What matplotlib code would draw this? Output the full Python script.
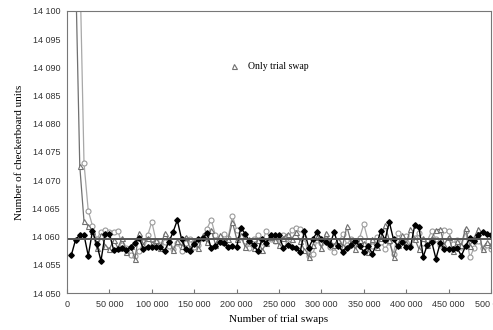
import numpy as np
import matplotlib
matplotlib.use('Agg')
import matplotlib.pyplot as plt
from matplotlib.ticker import FuncFormatter

trial_swaps = np.arange(5000, 500001, 5000)

black_diamonds = [
    14056.7, 14059.4, 14060.3, 14060.3, 14056.6, 14061.0, 14058.7, 14055.7, 14060.5, 14060.5,
    14057.6, 14057.8, 14058.0, 14057.6, 14058.1, 14058.9, 14059.8, 14057.8, 14058.2, 14058.2,
    14058.1, 14058.1, 14057.5, 14059.0, 14060.8, 14062.9, 14059.6, 14057.8, 14057.5, 14058.7,
    14059.6, 14059.7, 14060.6, 14057.9, 14058.3, 14059.0, 14058.8, 14058.2, 14058.3, 14058.1,
    14061.6, 14060.5, 14059.2, 14058.6, 14057.4, 14059.5, 14058.8, 14060.3, 14060.3, 14060.2,
    14058.0, 14058.6, 14058.2, 14057.9, 14057.3, 14061.0, 14058.0, 14059.6, 14060.8, 14059.6,
    14059.0, 14058.6, 14060.8, 14058.4, 14057.3, 14058.0, 14058.6, 14059.2, 14058.3, 14057.3,
    14058.3, 14057.0, 14058.6, 14061.0, 14059.4, 14062.6, 14059.5, 14058.3, 14059.0, 14058.1,
    14058.1, 14062.0, 14061.7, 14056.4, 14058.6, 14059.1, 14056.1, 14058.8, 14057.8, 14057.8,
    14057.8, 14058.0, 14056.6, 14058.3, 14059.8, 14059.2, 14060.3, 14060.8, 14060.5, 14060.3,
]

gray_circles = [
    np.nan, np.nan, 14109.0, 14073.0, 14064.6, 14061.9, 14059.5, 14060.9, 14061.2, 14060.9,
    14060.8, 14061.0, 14058.5, 14058.0, 14056.8, 14056.5, 14057.4, 14059.0, 14060.2, 14062.6,
    14059.2, 14058.6, 14059.0, 14058.4, 14057.8, 14058.9, 14057.4, 14058.8, 14059.5, 14058.2,
    14058.6, 14059.8, 14061.4, 14063.0, 14060.2, 14059.4, 14060.4, 14059.8, 14063.7, 14061.2,
    14060.0, 14059.3, 14058.0, 14059.5, 14060.3, 14059.0, 14061.0, 14059.5, 14059.2, 14059.8,
    14060.2, 14058.8, 14061.2, 14061.6, 14061.4, 14059.8, 14056.6, 14057.0, 14059.4, 14058.8,
    14059.6, 14058.2, 14057.3, 14059.0, 14060.4, 14058.6, 14059.6, 14058.9, 14059.8, 14062.2,
    14059.3, 14058.4, 14060.0, 14059.1, 14057.8, 14059.0, 14057.0, 14060.6, 14059.2, 14060.1,
    14058.4, 14059.7, 14060.6, 14058.9, 14059.3, 14061.0, 14059.6, 14058.6, 14061.2, 14061.0,
    14058.7, 14059.4, 14058.2, 14061.0, 14056.3, 14058.0, 14059.3, 14058.0, 14058.6, 14057.8,
]

trial_only = [
    np.nan, 14108.0, 14072.5, 14062.7, 14061.9, 14061.0, 14058.0, 14060.3, 14058.4, 14057.8,
    14059.4, 14058.0, 14059.8, 14057.2, 14058.4, 14056.1, 14060.6, 14058.6, 14059.8, 14058.8,
    14059.4, 14058.0, 14060.6, 14059.5, 14057.6, 14059.2, 14058.4, 14060.0, 14058.0, 14059.2,
    14057.9, 14060.2, 14059.0, 14061.2, 14058.6, 14060.2, 14059.0, 14059.5, 14062.6, 14059.6,
    14060.2, 14058.2, 14059.6, 14058.0, 14059.4, 14057.6, 14058.8, 14060.0, 14059.4, 14058.6,
    14059.8, 14060.5, 14059.6, 14060.8, 14059.2, 14057.6, 14056.4, 14058.6, 14060.0, 14058.0,
    14060.6, 14059.0, 14058.6, 14059.4, 14058.4, 14061.8, 14059.0, 14057.8, 14059.4, 14058.8,
    14057.3, 14059.6, 14058.2, 14059.8, 14062.0, 14059.4, 14056.3, 14058.6, 14060.2, 14058.8,
    14061.4, 14059.6, 14057.8, 14059.8, 14058.5, 14059.7, 14061.2, 14061.3, 14058.6, 14060.0,
    14057.4, 14059.2, 14058.6, 14061.5, 14058.4, 14059.8, 14061.4, 14057.8, 14059.0, 14058.6,
]

mean_level = 14059.6

fig = plt.figure(figsize=(4.93, 3.30), dpi=100)
ax = fig.add_axes([0.136, 0.112, 0.860, 0.855])

ax.plot(trial_swaps, gray_circles, '-o', color='#a8a8a8', lw=0.9,
        ms=3.6, mfc='white', mec='#9a9a9a', mew=0.8)
ax.plot(trial_swaps, trial_only, '-^', color='#707070', lw=0.9,
        ms=3.6, mfc='white', mec='#707070', mew=0.8, label='Only trial swap')
ax.plot(trial_swaps, black_diamonds, '-D', color='black', lw=1.0,
        ms=2.8, mfc='black', mec='black')
ax.axhline(mean_level, color='#555555', lw=1.4)

ax.set_xlim(0, 500000)
ax.set_ylim(14050, 14100)
ax.set_xticks(np.arange(0, 500001, 50000))
ax.set_yticks(np.arange(14050, 14101, 5))
ax.xaxis.set_major_formatter(FuncFormatter(lambda v, p: f'{int(v):,}'.replace(',', ' ')))
ax.yaxis.set_major_formatter(FuncFormatter(lambda v, p: f'{int(v):,}'.replace(',', ' ')))

for lab in ax.get_xticklabels() + ax.get_yticklabels():
    lab.set_fontfamily('Liberation Sans')
    lab.set_fontsize(6.5)
    lab.set_color('#333333')
ax.tick_params(axis='x', direction='in', length=3, color='#777777', pad=5)
ax.tick_params(axis='y', length=0, pad=5)
for s in ax.spines.values():
    s.set_color('#777777')
    s.set_linewidth(0.8)

ax.set_xlabel('Number of trial swaps', family='Liberation Serif', fontsize=8, labelpad=4)
ax.set_ylabel('Number of checkerboard units', family='Liberation Serif', fontsize=8, labelpad=6)

leg = ax.legend(loc='upper left', bbox_to_anchor=(0.36, 0.85), frameon=False,
                prop={'family': 'Liberation Serif', 'size': 7}, handlelength=1.2)
for h in leg.legend_handles:
    h.set_linestyle('none')

fig.savefig('out.png', dpi=100)
